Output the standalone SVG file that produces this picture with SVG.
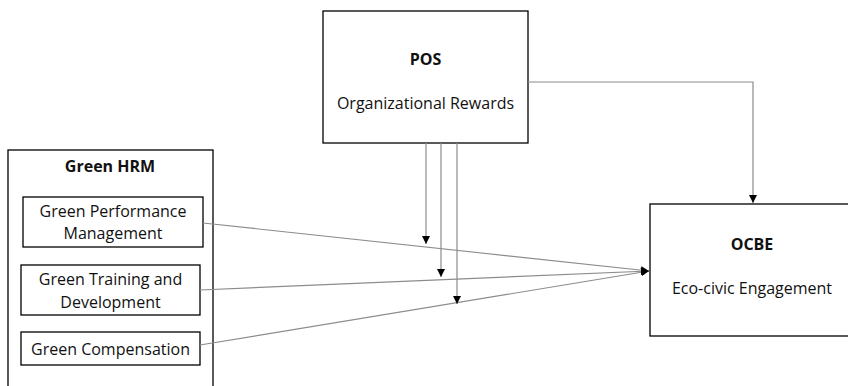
<svg xmlns="http://www.w3.org/2000/svg" width="848" height="386" viewBox="0 0 848 386">
<style>
.box{fill:#fff;stroke:#000;stroke-width:1.3}
.t{font-family:"Open Sans","Liberation Sans",sans-serif;font-size:16px;fill:#111;text-anchor:middle}
.b{font-weight:bold}
.c{fill:none;stroke:#8c8c8c;stroke-width:1.2}
</style>
<defs>
<marker id="ah" viewBox="0 0 10 10" refX="10" refY="5" markerWidth="8" markerHeight="8" markerUnits="userSpaceOnUse" orient="auto">
<path d="M0,0 L10,5 L0,10 z" fill="#000"/>
</marker>
</defs>
<rect width="848" height="386" fill="#fff"/>
<g id="pos">
<rect class="box" x="323" y="11" width="205" height="132"/>
<text class="t b" x="425.5" y="65">POS</text>
<text class="t" x="425.5" y="109">Organizational Rewards</text>
</g>
<g id="greenhrm">
<rect class="box" x="8" y="150" width="205" height="250"/>
<text class="t b" x="110" y="172">Green HRM</text>
</g>
<g id="gpm">
<rect class="box" x="23" y="197" width="180" height="50"/>
<text class="t" x="113" y="217">Green Performance</text>
<text class="t" x="113" y="239">Management</text>
</g>
<g id="gtd">
<rect class="box" x="21" y="265" width="179" height="50"/>
<text class="t" x="110.5" y="285">Green Training and</text>
<text class="t" x="110.5" y="308">Development</text>
</g>
<g id="gc">
<rect class="box" x="21" y="332" width="179" height="33"/>
<text class="t" x="110.5" y="355">Green Compensation</text>
</g>
<g id="ocbe">
<rect class="box" x="650" y="204" width="210" height="132"/>
<text class="t b" x="752" y="250">OCBE</text>
<text class="t" x="752" y="294">Eco-civic Engagement</text>
</g>
<g id="connectors">
<path class="c" d="M203,223 L649,271" marker-end="url(#ah)"/>
<path class="c" d="M200,290 L649,271" marker-end="url(#ah)"/>
<path class="c" d="M200,345 L649,271" marker-end="url(#ah)"/>
<path class="c" d="M528,82 L753,82 L753,203" marker-end="url(#ah)"/>
<path class="c" d="M426,143 L426,244" marker-end="url(#ah)"/>
<path class="c" d="M441,143 L441,277" marker-end="url(#ah)"/>
<path class="c" d="M457,143 L457,304" marker-end="url(#ah)"/>
</g>
</svg>
